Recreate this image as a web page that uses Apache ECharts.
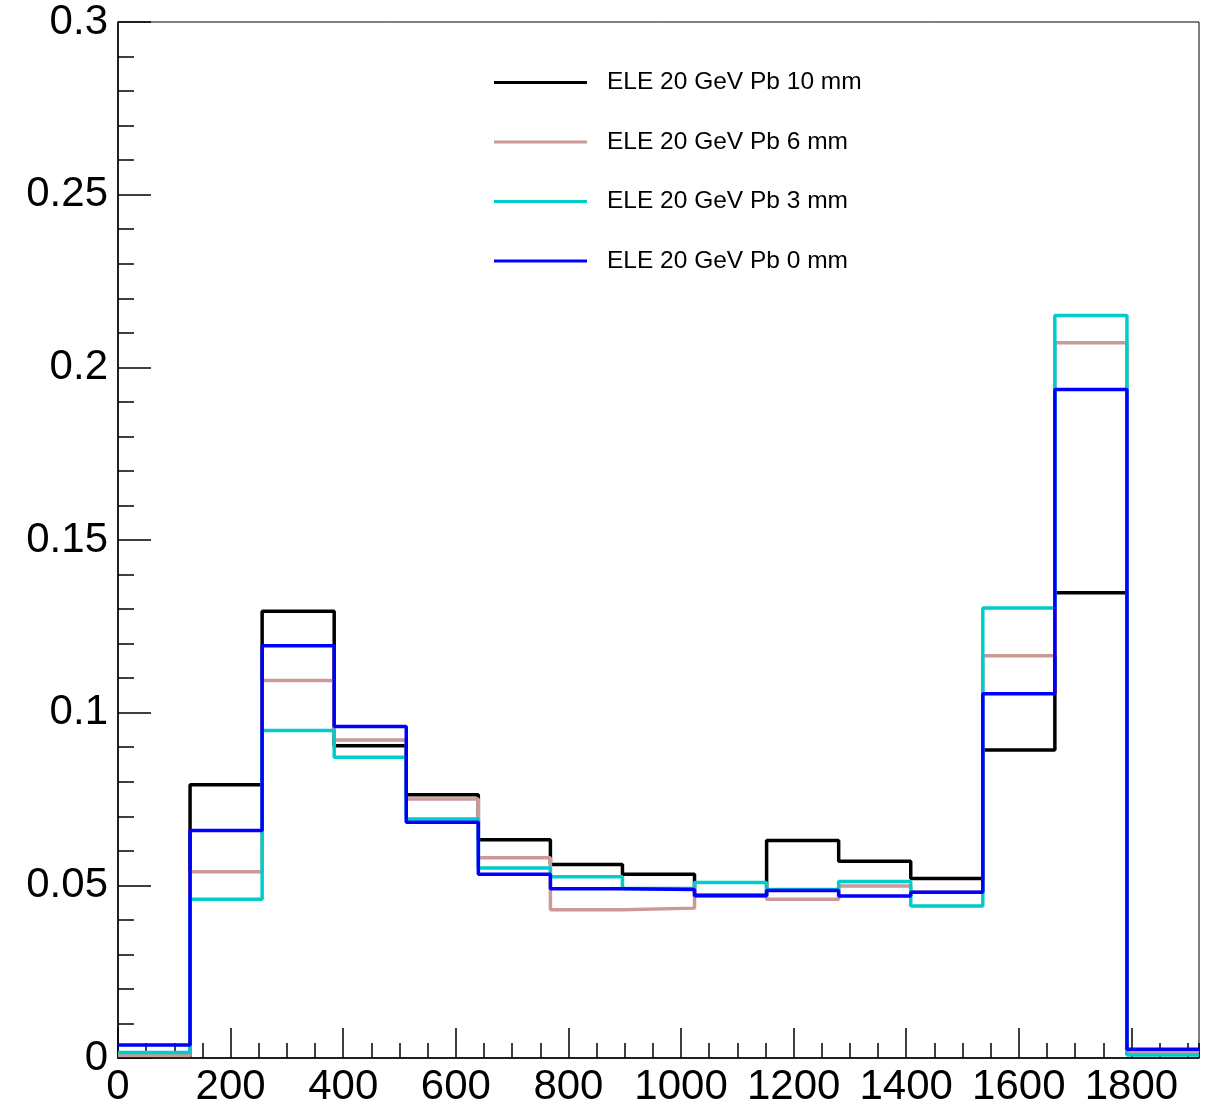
<!DOCTYPE html>
<html>
<head>
<meta charset="utf-8">
<script src="https://cdn.jsdelivr.net/npm/echarts@6/dist/echarts.min.js"></script>
<style>
  html, body { margin: 0; padding: 0; background: #fff; }
  #chart { width: 1209px; height: 1105px; }
</style>
</head>
<body>
<div id="chart"></div>
<script>
// bin low edges (bin width 128), last edge closes the histogram
var binEdges = [0, 128, 256, 384, 512, 640, 768, 896, 1024, 1152, 1280, 1408, 1536, 1664, 1792, 1920];

var pb10 = [0.0005, 0.0791, 0.1294, 0.0904, 0.0762, 0.0632, 0.0560, 0.0532, 0.0471, 0.0630, 0.0570, 0.0520, 0.0892, 0.1347, 0.0012];
var pb6  = [0.0007, 0.0539, 0.1093, 0.0921, 0.0750, 0.0580, 0.0429, 0.0434, 0.0470, 0.0460, 0.0498, 0.0481, 0.1165, 0.2071, 0.0017];
var pb3  = [0.0016, 0.0460, 0.0948, 0.0871, 0.0692, 0.0550, 0.0525, 0.0491, 0.0508, 0.0488, 0.0511, 0.0440, 0.1303, 0.2150, 0.0009];
var pb0  = [0.0038, 0.0659, 0.1194, 0.0960, 0.0683, 0.0532, 0.0490, 0.0488, 0.0470, 0.0485, 0.0469, 0.0480, 0.1055, 0.1936, 0.0025];

var names = ['ELE 20 GeV Pb 10 mm', 'ELE 20 GeV Pb 6 mm', 'ELE 20 GeV Pb 3 mm', 'ELE 20 GeV Pb 0 mm'];
var colors = ['#000000', '#cc9999', '#00cccc', '#0000ff'];

var FONT = '"Liberation Sans", Arial, Helvetica, sans-serif';

// histogram as step line: one point per bin low edge, plus the closing edge
function histPoints(vals) {
    var pts = [];
    for (var i = 0; i < vals.length; i++) {
        pts.push([binEdges[i], vals[i]]);
    }
    pts.push([binEdges[vals.length], vals[vals.length - 1]]);
    return pts;
}

var allSeries = [pb10, pb6, pb3, pb0].map(function (vals, i) {
    return {
        name: names[i],
        type: 'line',
        step: 'end',
        symbol: 'none',
        data: histPoints(vals),
        lineStyle: { color: colors[i], width: 3.5 },
        itemStyle: { color: colors[i] },
        xAxisIndex: 0,
        yAxisIndex: 0
    };
});

var option = {
    animation: false,
    backgroundColor: '#fff',
    grid: {
        left: 118,
        right: 10,
        top: 22,
        bottom: 47,
        outerBoundsMode: 'none',
        show: true,
        borderColor: '#000',
        borderWidth: 1,
        backgroundColor: 'transparent'
    },
    legend: {
        orient: 'vertical',
        left: 494,
        top: 70,
        padding: 0,
        icon: 'rect',
        itemWidth: 93,
        itemHeight: 3,
        itemGap: 34.5,
        textStyle: {
            fontFamily: FONT,
            fontSize: 24.5,
            lineHeight: 24,
            color: '#000',
            padding: [0, 0, 0, 15]
        },
        data: names
    },
    xAxis: [{
        type: 'value',
        min: 0,
        max: 1920,
        interval: 200,
        axisLine: { lineStyle: { color: '#000', width: 1.5 } },
        axisTick: { inside: true, length: 30, lineStyle: { color: '#000', width: 1.5 } },
        axisLabel: {
            showMaxLabel: false,
            color: '#000',
            fontFamily: FONT,
            fontSize: 42,
            margin: 8,
            formatter: function (v) { return String(v); }
        },
        splitLine: { show: false }
    }, {
        // minor ticks every 50
        type: 'value',
        position: 'bottom',
        min: 0,
        max: 1920,
        interval: 50,
        axisLine: { show: false },
        axisTick: { inside: true, length: 15, lineStyle: { color: '#000', width: 1.5 } },
        axisLabel: { show: false },
        splitLine: { show: false }
    }],
    yAxis: {
        type: 'value',
        min: 0,
        max: 0.3,
        interval: 0.05,
        axisLine: { show: true, lineStyle: { color: '#000', width: 1.5 } },
        axisTick: { show: true, inside: true, length: 33, lineStyle: { color: '#000', width: 1.5 } },
        minorTick: { show: true, splitNumber: 5, length: 16, lineStyle: { color: '#000', width: 1.5 } },
        axisLabel: {
            color: '#000',
            fontFamily: FONT,
            fontSize: 42,
            margin: 10,
            formatter: function (v) { return String(+v.toFixed(2)); }
        },
        splitLine: { show: false },
        minorSplitLine: { show: false }
    },
    series: allSeries
};

var myChart = echarts.init(document.getElementById('chart'));
myChart.setOption(option);
</script>
</body>
</html>
